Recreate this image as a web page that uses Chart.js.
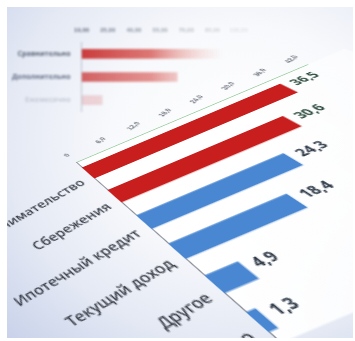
<!DOCTYPE html>
<html lang="ru">
<head>
<meta charset="utf-8">
<script src="https://cdn.jsdelivr.net/npm/chart.js@4.4.1/dist/chart.umd.min.js"></script>
<style>
html,body{margin:0;width:355px;height:341px;overflow:hidden;background:#fff}
#scene{position:absolute;left:7px;top:7px;width:346px;height:331px;overflow:hidden;
  background:radial-gradient(ellipse 95% 85% at 68% 40%,#ffffff 0%,#f8f9fc 40%,#e4e9f4 72%,#c9d2ea 100%)}
#bgWrap{position:absolute;left:2px;top:10px;filter:blur(1.1px);opacity:.9}
#mainWrap{position:absolute;left:0;top:0;transform-origin:0 0}
</style>
</head>
<body>
<div id="scene">
  <div id="bgWrap"><canvas id="bgChart" width="257" height="102"></canvas></div>
  <div id="mainWrap"><canvas id="mainChart" width="440" height="250"></canvas></div>
</div>
<script>
// фоновый график сверху
const bgLabels = ['Сравнительно', 'Дополнительно', 'Ежемесячно'];
const bgValues = [85, 55, 12];
const bgTicks = [0, 15, 30, 45, 60, 75, 90];
const bgMax = 100;

// основной график
const categories = ['Предпринимательство', 'Сбережения', 'Ипотечный кредит', 'Текущий доход', 'Другое', 'Наследство'];
const values = [36.5, 30.6, 24.3, 18.4, 4.9, 1.3];
const barColors = ['#c81f1e', '#c81f1e', '#4a87d2', '#4a87d2', '#4a87d2', '#4a87d2'];
const axisTicks = [0, 6, 12, 18, 24, 30, 36, 42];
const axisMax = 43;

const FRAME = 7;
// углы плоскости графика (значение, номер строки) и их положение на экране
const anchors = [
  { v: 0, i: 0, to: [88, 173] },
  { v: 36.5, i: 0, to: [289, 88] },
  { v: 0, i: 5, to: [257, 322] },
  { v: 36.5, i: 5, to: [530, 207] },
];

const fmt = (v) => v.toFixed(1).replace('.', ',');

new Chart(document.getElementById('bgChart'), {
  type: 'bar',
  data: {
    labels: bgLabels,
    datasets: [{
      data: bgValues,
      barPercentage: 0.42,
      categoryPercentage: 1,
      backgroundColor(c) {
        const a = c.chart.chartArea;
        if (!a) return '#d44';
        const g = c.chart.ctx.createLinearGradient(a.left, 0, a.right, 0);
        const k = [1, 0.8, 0.2][c.dataIndex];
        g.addColorStop(0, `rgba(198,38,38,${k})`);
        g.addColorStop(0.4, `rgba(210,70,65,${0.8 * k})`);
        g.addColorStop(0.82, 'rgba(240,190,180,0)');
        return g;
      }
    }]
  },
  options: {
    indexAxis: 'y',
    responsive: false,
    animation: false,
    layout: { padding: { right: 10, top: 10 } },
    plugins: { legend: { display: false }, tooltip: { enabled: false } },
    scales: {
      x: {
        position: 'top', min: 0, max: bgMax,
        afterBuildTicks: (s) => { s.ticks = bgTicks.map((v) => ({ value: v })); },
        grid: { display: false },
        border: { display: false },
        ticks: {
          maxRotation: 0, autoSkip: false, padding: 0,
          color: (c) => `rgba(55,65,85,${Math.max(0.15, 0.85 - c.index * 0.12)})`,
          font: { size: 6, weight: 'bold' },
          callback: (v) => `${v + 10},00`
        }
      },
      y: {
        grid: { display: false },
        border: { color: 'rgba(120,130,150,0.45)' },
        ticks: {
          color: (c) => ['#4a5468', '#56607a', '#c0c6d2'][c.index],
          font: { size: 7, weight: 'bold', family: 'Open Sans' }, padding: 3
        }
      }
    }
  }
});

const plotFill = {
  id: 'plotFill',
  beforeDraw(chart) {
    const { ctx, chartArea: a } = chart;
    const g = ctx.createLinearGradient(a.left, 0, a.right, 0);
    g.addColorStop(0, 'rgba(255,255,255,0.95)');
    g.addColorStop(1, 'rgba(255,255,255,0.5)');
    ctx.save();
    ctx.fillStyle = g;
    ctx.fillRect(a.left, a.top, a.right - a.left + 40, a.bottom - a.top);
    ctx.restore();
  }
};

const valueLabels = {
  id: 'valueLabels',
  afterDatasetsDraw(chart) {
    const { ctx } = chart;
    ctx.save();
    ctx.font = 'bold 12px "Open Sans", sans-serif';
    ctx.textAlign = 'left';
    ctx.textBaseline = 'middle';
    chart.getDatasetMeta(0).data.forEach((bar, i) => {
      ctx.fillStyle = i < 2 ? '#2c4a3c' : '#2f3a48';
      ctx.fillText(fmt(values[i]), bar.x + 7, bar.y - 2);
    });
    ctx.restore();
  }
};

const chart = new Chart(document.getElementById('mainChart'), {
  type: 'bar',
  data: {
    labels: categories,
    datasets: [{
      data: values,
      backgroundColor: barColors,
      barPercentage: 0.5,
      categoryPercentage: 1
    }]
  },
  options: {
    indexAxis: 'y',
    responsive: false,
    animation: false,
    layout: { padding: { right: 40, top: 4 } },
    plugins: { legend: { display: false }, tooltip: { enabled: false } },
    scales: {
      x: {
        position: 'top', min: 0, max: axisMax,
        afterBuildTicks: (s) => { s.ticks = axisTicks.map((v) => ({ value: v })); },
        grid: { display: false },
        border: { color: '#9fd0a4', width: 1 },
        ticks: {
          minRotation: 17, maxRotation: 17, autoSkip: false,
          color: '#6b717c', font: { size: 7, weight: 'bold' }, padding: 0,
          callback: (v) => v === 0 ? '0' : fmt(v)
        }
      },
      y: {
        grid: { display: false },
        border: { color: '#8a8f98', width: 1 },
        ticks: {
          minRotation: 8, maxRotation: 8, labelOffset: 7,
          color: '#3a3f49', padding: 2,
          font: { size: 12.5, weight: '600', family: 'Open Sans' }
        }
      }
    }
  },
  plugins: [plotFill, valueLabels]
});

// проективное преобразование плоскости графика по четырём точкам
function homography(src, dst) {
  const A = [], b = [];
  src.forEach(([x, y], k) => {
    const [X, Y] = dst[k];
    A.push([x, y, 1, 0, 0, 0, -x * X, -y * X]); b.push(X);
    A.push([0, 0, 0, x, y, 1, -x * Y, -y * Y]); b.push(Y);
  });
  const n = 8;
  for (let c = 0; c < n; c++) {
    let p = c;
    for (let r = c + 1; r < n; r++) if (Math.abs(A[r][c]) > Math.abs(A[p][c])) p = r;
    [A[c], A[p]] = [A[p], A[c]]; [b[c], b[p]] = [b[p], b[c]];
    for (let r = 0; r < n; r++) {
      if (r === c) continue;
      const f = A[r][c] / A[c][c];
      for (let k = c; k < n; k++) A[r][k] -= f * A[c][k];
      b[r] -= f * b[c];
    }
  }
  return b.map((v, i) => v / A[i][i]);
}

const xs = chart.scales.x, ys = chart.scales.y;
const src = anchors.map((p) => [xs.getPixelForValue(p.v), ys.getPixelForValue(p.i)]);
const dst = anchors.map((p) => [p.to[0] - FRAME, p.to[1] - FRAME]);
const [a, b, c, d, e, f, g, h] = homography(src, dst);
document.getElementById('mainWrap').style.transform =
  `matrix3d(${a},${d},0,${g},${b},${e},0,${h},0,0,1,0,${c},${f},0,1)`;
</script>
</body>
</html>
